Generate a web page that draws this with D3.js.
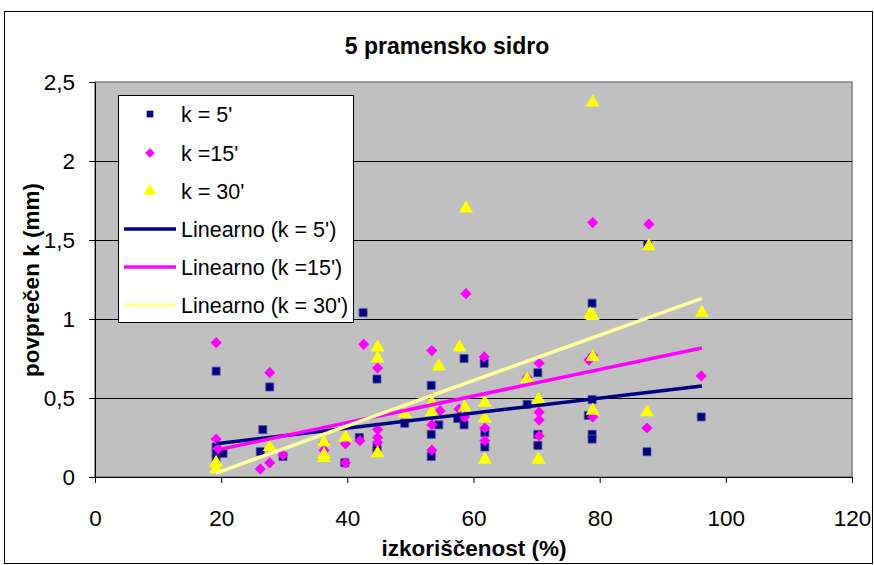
<!DOCTYPE html>
<html>
<head>
<meta charset="utf-8">
<script src="https://cdn.jsdelivr.net/npm/d3@7"></script>
<style>
  html, body { margin: 0; padding: 0; background: #fff; }
  svg text { font-family: "Liberation Sans", Arial, sans-serif; }
</style>
</head>
<body>
<svg id="chart" width="874" height="565"></svg>
<script>
// k = 5' readings: utilisation (%) and mean k (mm)
const k5x = [19.2, 19.2, 19.2, 19.2, 20.3, 26.2, 26.6, 27.7, 29.8, 39.6, 41.9, 42.5, 44.7, 44.7, 44.7,
             49.1, 53.3, 53.3, 53.3, 54.5, 57.5, 58.5, 58.5, 61.7, 61.8, 61.8, 68.5, 70.2, 70.2, 70.2,
             78.2, 78.8, 78.8, 78.8, 78.8, 87.6, 87.5, 96.1];
const k5y = [0.67, 0.19, 0.15, 0.12, 0.15, 0.16, 0.30, 0.57, 0.13, 0.09, 0.25, 1.04, 0.62, 0.19, 0.17,
             0.34, 0.58, 0.27, 0.13, 0.33, 0.37, 0.75, 0.33, 0.72, 0.28, 0.19, 0.46, 0.66, 0.27, 0.20,
             0.39, 1.10, 0.49, 0.27, 0.24, 1.47, 0.16, 0.38];

// k = 15' readings
const k15x = [19.2, 19.2, 19.5, 26.2, 27.7, 27.7, 29.8, 36.3, 36.3, 39.7, 39.7, 42.0, 42.6, 44.8, 44.8, 44.8, 44.8,
              53.4, 53.4, 53.4, 54.7, 57.7, 58.6, 58.8, 61.7, 61.8, 61.8, 68.5, 70.4, 70.4, 70.4, 70.4,
              78.3, 78.9, 78.9, 78.9, 87.8, 87.5, 96.1];
const k15y = [0.85, 0.24, 0.18, 0.05, 0.66, 0.09, 0.14, 0.22, 0.17, 0.09, 0.21, 0.23, 0.84, 0.69, 0.30, 0.25, 0.22,
              0.80, 0.33, 0.17, 0.42, 0.43, 0.38, 1.16, 0.76, 0.31, 0.23, 0.63, 0.72, 0.41, 0.36, 0.26,
              0.74, 0.77, 0.38, 1.61, 1.60, 0.31, 0.64];

// k = 30' readings
const k30x = [19.2, 19.2, 27.7, 36.3, 36.3, 36.3, 39.7, 44.8, 44.8, 44.8, 49.1, 53.4, 53.4, 54.5, 57.8, 58.6, 58.8,
              61.8, 61.8, 61.8, 68.5, 70.3, 70.3, 78.5, 78.9, 78.9, 78.9, 78.9, 87.8, 87.5, 96.2];
const k30y = [0.09, 0.05, 0.19, 0.22, 0.14, 0.12, 0.25, 0.82, 0.75, 0.15, 0.40, 0.47, 0.41, 0.70, 0.82, 0.44, 1.70,
              0.47, 0.37, 0.11, 0.62, 0.49, 0.11, 1.03, 1.02, 0.76, 0.42, 2.37, 1.46, 0.41, 1.04];

// Linear trend lines: value at the first and last utilisation of the data range
const trendX = [19.2, 96.2];
const trend5 = [0.21, 0.576];
const trend15 = [0.17, 0.816];
const trend30 = [0.025, 1.13];

const xTicks = [0, 20, 40, 60, 80, 100, 120];
const yTicks = [0, 0.5, 1, 1.5, 2, 2.5];
const yTickLabels = ["0", "0,5", "1", "1,5", "2", "2,5"];

const legendLabels = ["k = 5'", "k =15'", "k = 30'", "Linearno (k = 5')", "Linearno (k =15')", "Linearno (k = 30')"];

const svg = d3.select("#chart");
const plot = { left: 95, right: 852, top: 82, bottom: 477 };

const x = d3.scaleLinear().domain([0, 120]).range([plot.left, plot.right]);
const y = d3.scaleLinear().domain([0, 2.5]).range([plot.bottom, plot.top]);

// outer chart frame
svg.append("rect").attr("x", 4.5).attr("y", 11.5).attr("width", 868).attr("height", 552)
  .attr("fill", "#fff").attr("stroke", "#000").attr("stroke-width", 1);

// plot background
svg.append("rect").attr("x", plot.left).attr("y", plot.top)
  .attr("width", plot.right - plot.left).attr("height", plot.bottom - plot.top)
  .attr("fill", "#c0c0c0").attr("stroke", "#808080").attr("stroke-width", 1.5);

// horizontal gridlines
svg.append("g").selectAll("line").data(yTicks.slice(1, -1)).join("line")
  .attr("x1", plot.left).attr("x2", plot.right)
  .attr("y1", d => Math.round(y(d)) + 0.5).attr("y2", d => Math.round(y(d)) + 0.5)
  .attr("stroke", "#000").attr("stroke-width", 1);

const tickFont = 22.5;

// axes
const xAxis = d3.axisBottom(x).tickValues(xTicks).tickSize(6).tickPadding(27).tickFormat(d3.format("d"));
const gx = svg.append("g").attr("transform", `translate(0,${plot.bottom})`).call(xAxis);
gx.select(".domain").attr("stroke", "#000");
gx.selectAll(".tick line").attr("stroke", "#000");
gx.selectAll(".tick text").attr("font-size", tickFont).attr("fill", "#000")
  .attr("font-family", "Liberation Sans, Arial, sans-serif");

const yAxis = d3.axisLeft(y).tickValues(yTicks).tickSize(6).tickPadding(14)
  .tickFormat((d, i) => yTickLabels[i]);
const gy = svg.append("g").attr("transform", `translate(${plot.left},0)`).call(yAxis);
gy.select(".domain").attr("stroke", "#000");
gy.selectAll(".tick line").attr("stroke", "#000");
gy.selectAll(".tick text").attr("font-size", tickFont).attr("fill", "#000")
  .attr("font-family", "Liberation Sans, Arial, sans-serif");

// markers
const navy = "#000080", magenta = "#ff00ff", yellow = "#ffff00", paleYellow = "#ffff99";
const sym = {
  square: d3.symbol().type(d3.symbolSquare).size(64),
  diamond: d3.symbol().type(d3.symbolDiamond2).size(80),
  triangle: d3.symbol().type(d3.symbolTriangle).size(85)
};

function drawSeries(xs, ys, path, color, stroke) {
  svg.append("g").selectAll("path").data(xs.map((v, i) => [v, ys[i]])).join("path")
    .attr("transform", d => `translate(${x(d[0])},${y(d[1])})`)
    .attr("d", path)
    .attr("fill", color)
    .attr("stroke", stroke || "none")
    .attr("stroke-width", stroke ? 0.8 : 0);
}
drawSeries(k5x, k5y, sym.square, navy, "#4a4aa0");
drawSeries(k15x, k15y, sym.diamond, magenta);
drawSeries(k30x, k30y, sym.triangle, yellow);

// trend lines
const trendLine = d3.line().x(d => x(d[0])).y(d => y(d[1]));
[[trend5, navy], [trend15, magenta], [trend30, paleYellow]].forEach(([vals, c]) => {
  svg.append("path").attr("d", trendLine(trendX.map((v, i) => [v, vals[i]])))
    .attr("fill", "none").attr("stroke", c).attr("stroke-width", 3.5);
});

// legend
const lg = svg.append("g");
lg.append("rect").attr("x", 118.5).attr("y", 95.5).attr("width", 235).attr("height", 227)
  .attr("fill", "#fff").attr("stroke", "#000");
const rowY = [114, 153, 191, 229, 267, 305];
const legSym = [[d3.symbolSquare, navy, 45], [d3.symbolDiamond2, magenta, 60], [d3.symbolTriangle, yellow, 70]];
legSym.forEach(([t, c, s], i) => {
  lg.append("path").attr("transform", `translate(150,${rowY[i]})`)
    .attr("d", d3.symbol().type(t).size(s)())
    .attr("fill", c);
});
[navy, magenta, paleYellow].forEach((c, i) => {
  lg.append("line").attr("x1", 124).attr("x2", 176).attr("y1", rowY[i + 3]).attr("y2", rowY[i + 3])
    .attr("stroke", c).attr("stroke-width", 3.5);
});
lg.selectAll("text").data(legendLabels).join("text")
  .attr("x", 181).attr("y", (d, i) => rowY[i]).attr("dy", "0.36em")
  .attr("font-size", 21.5).attr("fill", "#000").text(d => d);

// titles
svg.append("text").attr("x", 447).attr("y", 46).attr("dy", "0.36em").attr("text-anchor", "middle")
  .attr("font-size", 23).attr("font-weight", "bold").text("5 pramensko sidro");
svg.append("text").attr("x", 474).attr("y", 548).attr("dy", "0.36em").attr("text-anchor", "middle")
  .attr("font-size", 22.5).attr("font-weight", "bold").text("izkoriščenost (%)");
svg.append("text").attr("transform", "translate(31,280) rotate(-90)").attr("dy", "0.36em")
  .attr("text-anchor", "middle").attr("font-size", 22.5).attr("font-weight", "bold").text("povprečen k (mm)");
</script>
</body>
</html>
